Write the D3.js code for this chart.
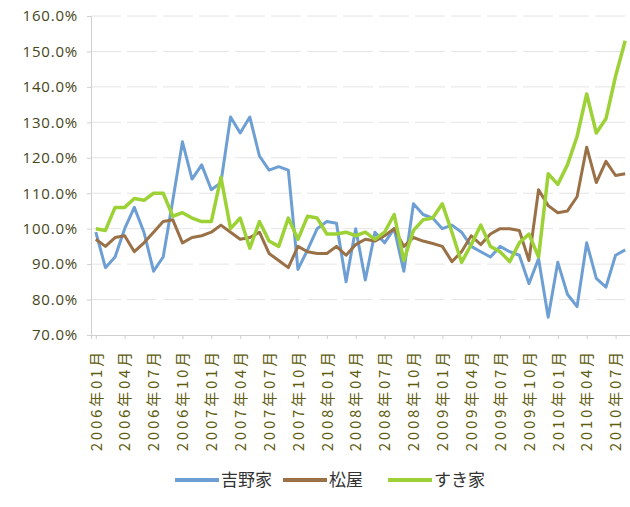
<!DOCTYPE html>
<meta charset="utf-8">
<style>
  body { margin: 0; background: #fff; }
  text { font-family: "Open Sans", "Noto Sans CJK JP", sans-serif; }
</style>
<body>
<script src="https://cdn.jsdelivr.net/npm/d3@7/dist/d3.min.js"></script>
<script>

var width = 630,
    height = 507;

var months = [
  "2006-01","2006-02","2006-03","2006-04","2006-05","2006-06","2006-07","2006-08","2006-09","2006-10","2006-11","2006-12",
  "2007-01","2007-02","2007-03","2007-04","2007-05","2007-06","2007-07","2007-08","2007-09","2007-10","2007-11","2007-12",
  "2008-01","2008-02","2008-03","2008-04","2008-05","2008-06","2008-07","2008-08","2008-09","2008-10","2008-11","2008-12",
  "2009-01","2009-02","2009-03","2009-04","2009-05","2009-06","2009-07","2009-08","2009-09","2009-10","2009-11","2009-12",
  "2010-01","2010-02","2010-03","2010-04","2010-05","2010-06","2010-07","2010-08"];

var tickLabels = ["2006年01月","2006年04月","2006年07月","2006年10月","2007年01月","2007年04月","2007年07月",
  "2007年10月","2008年01月","2008年04月","2008年07月","2008年10月","2009年01月","2009年04月","2009年07月",
  "2009年10月","2010年01月","2010年04月","2010年07月"];

var yoshinoya = [99, 89, 92, 100, 106, 99, 88, 92, 108, 124.5, 114, 118, 111, 113, 131.5, 127, 131.5, 120.5, 116.5, 117.5,
  116.5, 88.5, 94, 100, 102, 101.5, 85, 100, 85.5, 99, 96, 100, 88, 107, 104, 103, 100, 101, 99, 95,
  93.5, 92, 95, 93.5, 92.5, 84.5, 91.5, 75, 90.5, 81.5, 78, 96, 86, 83.5, 92.5, 94];

var matsuya = [97, 95, 97.5, 98, 93.5, 96, 99, 102, 102.5, 96, 97.5, 98, 99, 101, 99, 97, 97.5, 99, 93, 91,
  89, 95, 93.5, 93, 93, 95, 92.5, 95.5, 97, 96.5, 98, 100, 95, 97.5, 96.5, 95.8, 95, 90.7, 93.5, 98,
  95.5, 98.5, 100, 100, 99.5, 91, 111, 106.5, 104.5, 105, 109, 123, 113, 119, 115, 115.5];

var sukiya = [100, 99.5, 106, 106, 108.5, 108, 110, 110, 103.5, 104.5, 103, 102, 102, 114.5, 100, 103, 94.5, 102, 96.5, 95,
  103, 97, 103.5, 103, 98.5, 98.5, 99, 98, 99, 97, 99, 104, 91, 99.5, 102.5, 103, 107, 99, 90.5, 95.5,
  101, 95, 93.5, 90.7, 96, 98.5, 92, 115.5, 112.5, 118, 126, 138, 127, 131, 143, 153];

var seriesNames = ["吉野家", "松屋", "すき家"];
var seriesColors = ["#6d9fd4", "#9a7147", "#9cd236"];
var yTicks = [70, 80, 90, 100, 110, 120, 130, 140, 150, 160];

var series = [yoshinoya, matsuya, sukiya];

var plotLeft = 91, plotRight = 630, plotTop = 16, plotBottom = 335;

var x = d3.scalePoint()
    .domain(months)
    .range([plotLeft, plotRight])
    .padding(0.5);

var y = d3.scaleLinear()
    .domain([70, 160])
    .range([plotBottom, plotTop]);

var svg = d3.select("body").append("svg")
    .attr("width", width)
    .attr("height", height);

// grid
svg.append("g")
    .selectAll("line")
    .data(yTicks.slice(1))
    .enter().append("line")
    .attr("x1", plotLeft).attr("x2", plotRight)
    .attr("y1", d => y(d)).attr("y2", d => y(d))
    .attr("stroke", "#e4e4e4")
    .attr("stroke-dasharray", "30,6")
    .attr("stroke-width", 1);

// y axis
var yAxis = svg.append("g")
    .attr("transform", "translate(" + plotLeft + ",0)")
    .call(d3.axisLeft(y).tickValues(yTicks).tickSize(4).tickFormat(d => d.toFixed(1) + "%"));
yAxis.select(".domain").attr("stroke", "#cfcfcf");
yAxis.selectAll(".tick line").attr("stroke", "#cfcfcf");
yAxis.selectAll("text")
    .attr("x", -13)
    .attr("fill", "#46461a")
    .style("font-size", "15px")
    .style("letter-spacing", "0.8px");

// x axis
var tickMonths = months.filter((m, i) => i % 3 == 0);
var xAxis = svg.append("g")
    .attr("transform", "translate(0," + plotBottom + ")")
    .call(d3.axisBottom(x).tickValues(tickMonths).tickSize(4)
      .tickFormat((d, i) => tickLabels[i]));
xAxis.select(".domain").attr("stroke", "#cfcfcf");
xAxis.selectAll(".tick line").attr("stroke", "#cfcfcf");
xAxis.selectAll("text")
    .attr("transform", "rotate(-90)")
    .attr("x", -14)
    .attr("y", 0)
    .attr("dy", "0.35em")
    .attr("text-anchor", "end")
    .attr("fill", "#5e5c10")
    .style("font-family", "'Noto Sans CJK JP', sans-serif")
    .style("font-size", "15px")
    .style("letter-spacing", "2.8px");

// lines
var line = d3.line()
    .x((d, i) => x(months[i]))
    .y(d => y(d));

svg.append("g")
    .selectAll("path")
    .data(series)
    .enter().append("path")
    .attr("fill", "none")
    .attr("stroke", (d, i) => seriesColors[i])
    .attr("stroke-width", (d, i) => i == 2 ? 3.5 : 3)
    .attr("stroke-linejoin", "round")
    .attr("d", line);

// legend
var legendX = [175, 283, 388];
var legend = svg.append("g")
    .selectAll("g")
    .data(seriesNames)
    .enter().append("g")
    .attr("transform", (d, i) => "translate(" + legendX[i] + ",480)");
legend.append("line")
    .attr("x1", 0).attr("x2", 44)
    .attr("stroke", (d, i) => seriesColors[i])
    .attr("stroke-width", 4);
legend.append("text")
    .attr("x", 46)
    .attr("dy", "0.35em")
    .attr("fill", "#333")
    .style("font-family", "'Noto Sans CJK JP', sans-serif")
    .style("font-size", "17px")
    .text(d => d);

</script>
</body>
